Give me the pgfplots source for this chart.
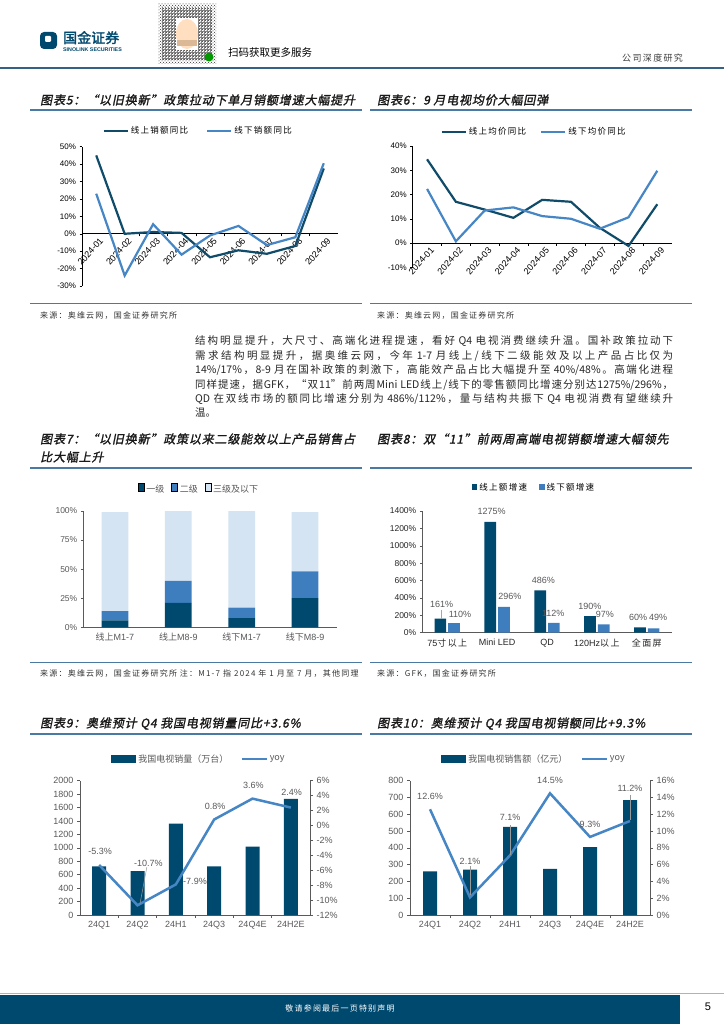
\documentclass[border=0pt]{standalone}
\usepackage{fontspec}
\usepackage{pgfplots}
\pgfplotsset{compat=1.18}
\usetikzlibrary{patterns}
\setmainfont{Liberation Sans}
\newfontfamily\cjk{Noto Sans CJK SC}
\newfontfamily\cjkls[LetterSpace=15]{Noto Sans CJK SC}
\newfontfamily\cjkbold[FakeBold=2]{Noto Sans CJK SC}
\newfontfamily\cjktitle[FakeSlant=0.2,FakeBold=1.5,LetterSpace=7]{Noto Sans CJK SC}

\definecolor{navy}{RGB}{0,73,110}
\definecolor{dline}{RGB}{16,76,106}
\definecolor{lblue}{RGB}{70,134,197}
\definecolor{mblue}{RGB}{62,126,190}
\definecolor{pblue}{RGB}{213,228,242}
\definecolor{rulec}{RGB}{74,122,161}
\definecolor{hdr}{RGB}{52,98,132}
\definecolor{tgray}{RGB}{89,89,89}
\definecolor{agray}{RGB}{90,90,90}

\tikzset{lbw/.style={font=\fontsize{9}{10}\selectfont, text=white},
         lbg/.style={font=\fontsize{9}{10}\selectfont, text=tgray}}

\def\lgw{5.6pt}\def\lgh{2.8pt}
\pgfplotsset{
  every axis/.append style={scale only axis, clip=false,
    /pgf/number format/assume math mode=true,
    /pgf/number format/1000 sep={}},
  ybar legend/.style={legend image code/.code={\fill[##1] (0pt,-\lgh) rectangle (\lgw,\lgh);}},
  lineleg/.style={legend image code/.code={\draw[##1] (0pt,0pt) -- (25pt,0pt);}},
  lineleg24/.style={legend image code/.code={\draw[##1] (0pt,0pt) -- (24pt,0pt);}},
  lg/.style={legend style={draw=none, fill=none, legend columns=2, inner sep=0pt, outer sep=0pt, anchor=center, /tikz/every even column/.append style={column sep=#1}}, legend cell align=left},
}
% CJK character class for inter-character stretch in the body lines
\newXeTeXintercharclass\cjkclass
\newcount\cc
\cc="2E80
\loop
  \XeTeXcharclass\cc=\cjkclass
  \advance\cc by 1
\ifnum\cc<"A000 \repeat
\cc="FF00
\loop
  \XeTeXcharclass\cc=\cjkclass
  \advance\cc by 1
\ifnum\cc<"FFF0 \repeat
\newcommand\cjkstretch{%
  \XeTeXinterchartokenstate=1
  \XeTeXinterchartoks\cjkclass\cjkclass={\hskip 0pt plus 2pt\relax}%
  \XeTeXinterchartoks 0 \cjkclass={\hskip 0pt plus 2pt\relax}%
  \XeTeXinterchartoks\cjkclass 0 ={\hskip 0pt plus 2pt\relax}%
}
\newcommand\bl[2]{\node[anchor=base west, inner sep=0pt, font=\cjk\fontsize{10.5}{12}\selectfont, text=black!85] at (195,#1) {\cjkstretch\makebox[478pt][s]{#2}};}
\newcommand\ttl[3]{\node[anchor=base west, inner sep=0pt, font=\cjktitle\fontsize{12}{14}\selectfont, text=black!90] at (#1,#2) {#3};}
\newcommand\src[3]{\node[anchor=base west, inner sep=0pt, font=\cjkls\fontsize{8}{9}\selectfont, text=black!80] at (#1,#2) {#3};}

\begin{document}
\begin{tikzpicture}
\fill[white] (0pt,0pt) rectangle (724pt,-1024pt);
\path[use as bounding box] (0pt,0pt) rectangle (724pt,-1024pt);
\begin{scope}[x=1pt,y=-1pt]
  % ---- header
  \fill[navy, rounded corners=4pt] (40,32) rectangle (57,49);
  \fill[white, rounded corners=1pt] (45,36) rectangle (51,42);
  \node[anchor=base west, inner sep=0pt, text=navy, font=\cjkbold\fontsize{14}{14}\selectfont] at (63,43) {国金证券};
  \node[anchor=base west, inner sep=0pt, text=navy, font=\bfseries\fontsize{5.3}{6}\selectfont] at (63,51.5) {SINOLINK SECURITIES};
  \fill[pattern=crosshatch dots, pattern color=black!80] (158,4) rectangle (216,64);
  \fill[pattern=grid, pattern color=black!50] (162,8) rectangle (212,60);
  \fill[white] (176,18) rectangle (198,50);
  \fill[orange!25!white] (187,34) ellipse (11pt and 15pt);
  \fill[brown!55!white] (177,40) rectangle (197,46);
  \fill[green!60!black] (209,57) circle (4.5pt);
  \node[anchor=base west, inner sep=0pt, font=\cjk\fontsize{10.5}{12}\selectfont] at (228,57) {扫码获取更多服务};
  \node[anchor=base west, inner sep=0pt, font=\cjkls\fontsize{9}{10}\selectfont, text=black!75] at (622,61.5) {公司深度研究};
  \draw[hdr, line width=1.5pt] (0,68) -- (724,68);
  % ---- titles row 1
  \ttl{40}{104.5}{图表5：“以旧换新”政策拉动下单月销额增速大幅提升}
  \ttl{377}{104.5}{图表6：9 月电视均价大幅回弹}
  \draw[rulec, line width=1.2pt] (30,110) -- (362,110);
  \draw[rulec, line width=1.2pt] (370,110) -- (692,110);
  \draw[rulec, line width=0.8pt] (30,303) -- (362,303);
  \draw[rulec, line width=0.8pt] (370,303) -- (692,303);
  \src{40}{318.5}{来源：奥维云网，国金证券研究所}
  \src{377}{318.5}{来源：奥维云网，国金证券研究所}
  % ---- body text
  \bl{344}{结构明显提升，大尺寸、高端化进程提速，看好 Q4 电视消费继续升温。国补政策拉动下}
  \bl{359}{需求结构明显提升，据奥维云网，今年 1-7 月线上/线下二级能效及以上产品占比仅为}
  \bl{373.3}{14\%/17\%，8-9 月在国补政策的刺激下，高能效产品占比大幅提升至 40\%/48\%。高端化进程}
  \bl{388}{同样提速，据GFK，“双11”前两周Mini LED线上/线下的零售额同比增速分别达1275\%/296\%，}
  \bl{402.3}{QD 在双线市场的额同比增速分别为 486\%/112\%，量与结构共振下 Q4 电视消费有望继续升}
  \node[anchor=base west, inner sep=0pt, font=\cjk\fontsize{10.5}{12}\selectfont, text=black!85] at (195,416.3) {温。};
  % ---- titles row 2
  \ttl{40}{443.5}{图表7：“以旧换新”政策以来二级能效以上产品销售占}
  \ttl{40}{461.5}{比大幅上升}
  \ttl{377}{443.5}{图表8：双“11”前两周高端电视销额增速大幅领先}
  \draw[rulec, line width=1.2pt] (30,468) -- (362,468);
  \draw[rulec, line width=1.2pt] (370,468) -- (692,468);
  \draw[rulec, line width=0.8pt] (30,662) -- (362,662);
  \draw[rulec, line width=0.8pt] (370,662) -- (692,662);
  \src{40}{676.5}{来源：奥维云网，国金证券研究所 注：M1-7 指 2024 年 1 月至 7 月，其他同理}
  \src{377}{676.5}{来源：GFK，国金证券研究所}
  % ---- titles row 3
  \ttl{40}{727.5}{图表9：奥维预计 Q4 我国电视销量同比+3.6\%}
  \ttl{377}{727.5}{图表10：奥维预计 Q4 我国电视销额同比+9.3\%}
  \draw[rulec, line width=1.2pt] (30,734) -- (362,734);
  \draw[rulec, line width=1.2pt] (370,734) -- (692,734);
  % ---- footer
  \draw[black!30, line width=0.6pt] (0,993.5) -- (724,993.5);
  \fill[navy] (0,995) rectangle (680,1024);
  \node[text=white, font=\cjkls\fontsize{8}{9}\selectfont] at (340,1008) {敬请参阅最后一页特别声明};
  \node[font=\fontsize{11}{12}\selectfont] at (708,1007) {5};
\end{scope}

% ================= Chart 5
\begin{axis}[
  at={(82pt,-286pt)}, anchor=south west, width=256pt, height=139.3pt,
  xmin=-0.5, xmax=8.5, ymin=-30, ymax=50,
  axis y line*=left, axis x line*=middle, hide obscured y ticks=false,
  axis line style={black, line width=0.6pt},
  tick style={black, line width=0.5pt}, tick align=outside,
  major tick length=2.5pt, minor tick length=2.5pt,
  ytick={-30,-20,...,50}, yticklabel={\pgfmathprintnumber{\tick}\%},
  xtick={0,...,8},
  xticklabels={2024-01,2024-02,2024-03,2024-04,2024-05,2024-06,2024-07,2024-08,2024-09},
  major x tick style=transparent, minor x tick num=1,
  x tick label style={rotate=48, anchor=north east, inner sep=0.5pt, yshift=-2pt, xshift=2pt, font=\fontsize{9}{10}\selectfont},
  y tick label style={font=\fontsize{8}{9}\selectfont},
  lg=16pt, legend style={at={(0.454,1.115)}, font=\cjkls\fontsize{8.5}{9}\selectfont},
  lineleg24,
]
\addplot[dline, line width=2.2pt] coordinates {(0,45) (1,0) (2,1) (3,0.5) (4,-13.5) (5,-9.5) (6,-11.5) (7,-7) (8,37.5)};
\addlegendentry{线上销额同比}
\addplot[lblue, line width=2.2pt] coordinates {(0,23) (1,-24) (2,5.5) (3,-12) (4,-1) (5,4.5) (6,-6.5) (7,-2) (8,40.5)};
\addlegendentry{线下销额同比}
\end{axis}

% ================= Chart 6
\begin{axis}[
  at={(412.7pt,-267.3pt)}, anchor=south west, width=259pt, height=121.3pt,
  xmin=-0.5, xmax=8.5, ymin=-10, ymax=40,
  axis y line*=left, axis x line*=middle, hide obscured y ticks=false,
  axis line style={black, line width=0.6pt},
  tick style={black, line width=0.5pt}, tick align=outside,
  major tick length=2.5pt, minor tick length=2.5pt,
  ytick={-10,0,...,40}, yticklabel={\pgfmathprintnumber{\tick}\%},
  xtick={0,...,8},
  xticklabels={2024-01,2024-02,2024-03,2024-04,2024-05,2024-06,2024-07,2024-08,2024-09},
  major x tick style=transparent, minor x tick num=1,
  x tick label style={rotate=48, anchor=north east, inner sep=0.5pt, yshift=-2pt, xshift=2pt, font=\fontsize{9}{10}\selectfont},
  y tick label style={font=\fontsize{8}{9}\selectfont},
  lg=12pt, legend style={at={(0.469,1.118)}, font=\cjkls\fontsize{8.5}{9}\selectfont},
  lineleg24,
]
\addplot[dline, line width=2.2pt] coordinates {(0,34.5) (1,17) (2,13.8) (3,10.4) (4,17.8) (5,17) (6,6.3) (7,-1.2) (8,16)};
\addlegendentry{线上均价同比}
\addplot[lblue, line width=2.2pt] coordinates {(0,22.3) (1,0.7) (2,13.4) (3,14.7) (4,11.1) (5,10) (6,5.9) (7,10.6) (8,29.8)};
\addlegendentry{线下均价同比}
\end{axis}

% ================= Chart 7
\begin{axis}[
  at={(83.3pt,-627.3pt)}, anchor=south west, width=253.4pt, height=116.3pt,
  xmin=-0.5, xmax=3.5, ymin=0, ymax=100,
  ybar stacked, bar width=26.7pt,
  axis x line*=bottom, axis y line*=left,
  axis line style={agray, line width=0.6pt},
  tick style={agray, line width=0.5pt}, tick align=outside, major tick length=2.5pt,
  ytick={0,25,50,75,100}, yticklabel={\pgfmathprintnumber{\tick}\%},
  xtick={0,1,2,3},
  xticklabels={{\cjk 线上}M1-7,{\cjk 线上}M8-9,{\cjk 线下}M1-7,{\cjk 线下}M8-9},
  major x tick style=transparent,
  x tick label style={font=\fontsize{9}{10}\selectfont, text=tgray},
  y tick label style={font=\fontsize{8.5}{10}\selectfont, text=tgray},
  lg=5pt, legend columns=3, legend style={at={(0.457,1.189)}, font=\cjk\fontsize{9}{10}\selectfont, text=tgray},
]
\addplot[fill=navy, draw=none] coordinates {(0,6) (1,21) (2,8) (3,25)};
\addlegendentry{一级}
\addplot[fill=mblue, draw=none] coordinates {(0,8) (1,19) (2,9) (3,23)};
\addlegendentry{二级}
\addplot[fill=pblue, draw=none] coordinates {(0,85) (1,60) (2,83) (3,51)};
\addlegendentry{三级及以下}
\node[lbw] at (axis cs:0,2.6) {6\%};
\node[lbw] at (axis cs:0,9.6) {8\%};
\node[lbg] at (axis cs:0,56.5) {85\%};
\node[lbw] at (axis cs:1,10.5) {21\%};
\node[lbw] at (axis cs:1,30) {19\%};
\node[lbg] at (axis cs:1,70) {60\%};
\node[lbw] at (axis cs:2,3.6) {8\%};
\node[lbw] at (axis cs:2,12) {9\%};
\node[lbg] at (axis cs:2,58.5) {83\%};
\node[lbw] at (axis cs:3,12) {25\%};
\node[lbw] at (axis cs:3,36) {23\%};
\node[lbg] at (axis cs:3,73.5) {51\%};
\end{axis}

% ================= Chart 8
\begin{axis}[
  at={(422.3pt,-632.7pt)}, anchor=south west, width=249.4pt, height=121.7pt,
  xmin=-0.5, xmax=4.5, ymin=0, ymax=1400,
  ybar=2pt, bar width=11.7pt,
  axis x line*=bottom, axis y line*=left,
  axis line style={agray, line width=0.6pt},
  tick style={agray, line width=0.5pt}, tick align=outside, major tick length=2.5pt,
  ytick={0,200,...,1400}, yticklabel={\pgfmathprintnumber{\tick}\%},
  xtick={0,...,4},
  xticklabels={75{\cjkls 寸以上},Mini LED,QD,120Hz{\cjkls 以上},{\cjkls 全面屏}},
  major x tick style=transparent,
  x tick label style={font=\fontsize{9}{10}\selectfont, text=black!85},
  y tick label style={font=\fontsize{8.5}{10}\selectfont, text=black!85},
  lg=10pt, legend style={at={(0.448,1.195)}, font=\cjkls\fontsize{8.5}{10}\selectfont},
]
\addplot[fill=navy, draw=none] coordinates {(0,161) (1,1275) (2,486) (3,190) (4,60)};
\addlegendentry{线上额增速}
\addplot[fill=mblue, draw=none] coordinates {(0,110) (1,296) (2,112) (3,97) (4,49)};
\addlegendentry{线下额增速}
\node[lbg] at (axis cs:-0.111,330) {161\%};
\node[lbg] at (axis cs:0.255,212) {110\%};
\node[lbg] at (axis cs:0.891,1400) {1275\%};
\node[lbg] at (axis cs:1.258,414) {296\%};
\node[lbg] at (axis cs:1.925,603) {486\%};
\node[lbg] at (axis cs:2.125,223) {112\%};
\node[lbg] at (axis cs:2.861,307) {190\%};
\node[lbg] at (axis cs:3.161,212) {97\%};
\node[lbg] at (axis cs:3.829,173) {60\%};
\node[lbg] at (axis cs:4.229,173) {49\%};
\draw[black!35, line width=0.5pt] (axis cs:-0.125,262) -- (axis cs:-0.125,161);
\end{axis}

% ================= Chart 9
\def\lgw{25pt}\def\lgh{3.8pt}
\begin{axis}[
  at={(80pt,-915pt)}, anchor=south west, width=230pt, height=134.3pt,
  xmin=-0.5, xmax=5.5, ymin=0, ymax=2000,
  ybar, bar width=14pt,
  axis x line*=bottom, axis y line*=left,
  axis line style={agray, line width=0.6pt},
  tick style={agray, line width=0.5pt}, tick align=outside,
  major tick length=3pt, minor tick length=3pt,
  ytick={0,200,...,2000},
  xtick={0,...,5}, xticklabels={24Q1,24Q2,24H1,24Q3,24Q4E,24H2E},
  major x tick style=transparent, minor x tick num=1,
  tick label style={font=\fontsize{9}{10}\selectfont, text=tgray},
  lg=10pt, legend style={at={(0.517,1.162)}, font=\cjk\fontsize{9}{10}\selectfont, text=tgray},
]
\addplot[fill=navy, draw=none] coordinates {(0,725) (1,655) (2,1360) (3,725) (4,1020) (5,1730)};
\addlegendentry{我国电视销量（万台）}
\addlegendimage{lblue, line width=2.5pt, lineleg}
\addlegendentry{yoy}
\end{axis}
\begin{axis}[
  at={(80pt,-915pt)}, anchor=south west, width=230pt, height=134.3pt,
  xmin=-0.5, xmax=5.5, ymin=-12, ymax=6,
  axis y line*=right, axis x line=none,
  axis line style={agray, line width=0.6pt},
  tick style={agray, line width=0.5pt}, tick align=outside, major tick length=3pt,
  ytick={-12,-10,...,6}, yticklabel={\pgfmathprintnumber{\tick}\%},
  tick label style={font=\fontsize{9}{10}\selectfont, text=tgray},
]
\addplot[lblue, line width=2.5pt] coordinates {(0,-5.3) (1,-10.7) (2,-7.9) (3,0.8) (4,3.6) (5,2.4)};
\draw[black!40, line width=0.5pt] (axis cs:1.243,-5.6) -- (axis cs:1.065,-10.5);
\node[lbg] at (axis cs:0.022,-3.52) {-5.3\%};
\node[lbg] at (axis cs:1.282,-5.07) {-10.7\%};
\node[lbg] at (axis cs:2.5,-7.54) {-7.9\%};
\node[lbg] at (axis cs:3.022,2.61) {0.8\%};
\node[lbg] at (axis cs:4.02,5.42) {3.6\%};
\node[lbg] at (axis cs:5.02,4.39) {2.4\%};
\end{axis}

% ================= Chart 10
\begin{axis}[
  at={(410pt,-915pt)}, anchor=south west, width=240pt, height=134.3pt,
  xmin=-0.5, xmax=5.5, ymin=0, ymax=800,
  ybar, bar width=14pt,
  axis x line*=bottom, axis y line*=left,
  axis line style={agray, line width=0.6pt},
  tick style={agray, line width=0.5pt}, tick align=outside,
  major tick length=3pt, minor tick length=3pt,
  ytick={0,100,...,800},
  xtick={0,...,5}, xticklabels={24Q1,24Q2,24H1,24Q3,24Q4E,24H2E},
  major x tick style=transparent, minor x tick num=1,
  tick label style={font=\fontsize{9}{10}\selectfont, text=tgray},
  lg=11pt, legend style={at={(0.517,1.162)}, font=\cjk\fontsize{9}{10}\selectfont, text=tgray},
]
\addplot[fill=navy, draw=none] coordinates {(0,260) (1,270) (2,525) (3,275) (4,405) (5,685)};
\addlegendentry{我国电视销售额（亿元）}
\addlegendimage{lblue, line width=2.5pt, lineleg}
\addlegendentry{yoy}
\end{axis}
\begin{axis}[
  at={(410pt,-915pt)}, anchor=south west, width=240pt, height=134.3pt,
  xmin=-0.5, xmax=5.5, ymin=0, ymax=16,
  axis y line*=right, axis x line=none,
  axis line style={agray, line width=0.6pt},
  tick style={agray, line width=0.5pt}, tick align=outside, major tick length=3pt,
  ytick={0,2,...,16}, yticklabel={\pgfmathprintnumber{\tick}\%},
  tick label style={font=\fontsize{9}{10}\selectfont, text=tgray},
]
\addplot[lblue, line width=2.5pt] coordinates {(0,12.6) (1,2.1) (2,7.1) (3,14.5) (4,9.3) (5,11.2)};
\draw[black!40, line width=0.5pt] (axis cs:1,5.8) -- (axis cs:1,2.4);
\draw[black!40, line width=0.5pt] (axis cs:2,10.7) -- (axis cs:2,7.1);
\draw[black!40, line width=0.5pt] (axis cs:5,14.3) -- (axis cs:5,11.3);
\node[lbg] at (axis cs:0,14.18) {12.6\%};
\node[lbg] at (axis cs:1,6.43) {2.1\%};
\node[lbg] at (axis cs:2,11.59) {7.1\%};
\node[lbg] at (axis cs:3,16.08) {14.5\%};
\node[lbg] at (axis cs:4,10.84) {9.3\%};
\node[lbg] at (axis cs:5,15.09) {11.2\%};
\end{axis}
\end{tikzpicture}
\end{document}
